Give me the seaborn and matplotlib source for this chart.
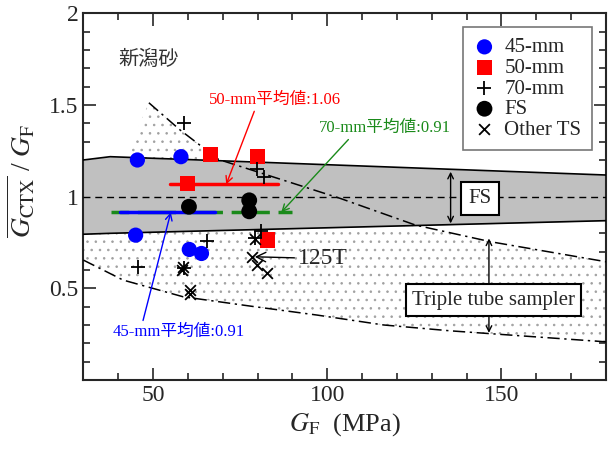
import numpy as np
import pandas as pd
import seaborn as sns
import matplotlib.pyplot as plt
from matplotlib.ticker import MultipleLocator

sns.set_style("ticks")
plt.rcParams['font.family'] = ['Liberation Serif', 'Noto Sans CJK JP']
plt.rcParams['mathtext.fontset'] = 'stix'
plt.rcParams['hatch.linewidth'] = 0.6

# %% Data

gf_45 = [45.5, 58.0, 45.0, 60.4, 63.9]
ratio_45 = [1.20, 1.218, 0.79, 0.712, 0.69]

gf_50 = [66.4, 80.0, 59.9, 82.9]
ratio_50 = [1.229, 1.218, 1.073, 0.763]

gf_70 = [58.9, 79.8, 81.7, 65.5, 81.1, 79.4, 45.8, 58.8]
ratio_70 = [1.40, 1.151, 1.105, 0.757, 0.814, 0.772, 0.617, 0.61]

gf_fs = [60.3, 77.6, 77.6]
ratio_fs = [0.945, 0.98, 0.92]

gf_ts = [79.2, 58.4, 58.7, 60.6, 60.7, 78.3, 79.7, 82.6]
ratio_ts = [0.77, 0.60, 0.615, 0.49, 0.468, 0.672, 0.627, 0.585]

# FS band (grey)
band_x = [30, 37.7, 180]
band_top = [1.20, 1.218, 1.118]
band_bot = [0.795, 0.80, 0.869]

# triple tube sampler envelope (dash-dot lines)
upper_x = [48.8, 57.8, 68.8, 103.8, 125.3, 146.9, 180]
upper_y = [1.512, 1.363, 1.203, 0.99, 0.845, 0.754, 0.645]
lower_x = [30, 41.4, 58.6, 77.9, 97.1, 116.2, 135.4, 180]
lower_y = [0.654, 0.545, 0.454, 0.403, 0.354, 0.30, 0.268, 0.208]
dotted_left_x = [42, 30]
dotted_left_y = [1.21, 1.20]

# mean values
mean_45, mean_45_x = 0.915, [40.5, 67.9]
mean_50, mean_50_x = 1.067, [54.8, 86.0]
mean_70, mean_70_x = 0.915, [37.9, 89.8]

points = pd.concat([
    pd.DataFrame({'GF': gf_45, 'ratio': ratio_45, 'group': '45-mm'}),
    pd.DataFrame({'GF': gf_50, 'ratio': ratio_50, 'group': '50-mm'}),
    pd.DataFrame({'GF': gf_70, 'ratio': ratio_70, 'group': '70-mm'}),
    pd.DataFrame({'GF': gf_fs, 'ratio': ratio_fs, 'group': 'FS'}),
    pd.DataFrame({'GF': gf_ts, 'ratio': ratio_ts, 'group': 'Other TS'}),
], ignore_index=True)

# %% Plot

fig = plt.figure(figsize=(6.13, 4.5), dpi=100)
ax = fig.add_axes([0.136, 0.1556, 0.8526, 0.8148])

# dotted envelope
poly_x = lower_x + upper_x[::-1] + dotted_left_x
poly_y = lower_y + upper_y[::-1] + dotted_left_y
ax.fill(poly_x, poly_y, facecolor='white', edgecolor='#a0a0a0', lw=0, hatch='..', zorder=1)

# FS band
ax.fill_between(band_x, band_bot, band_top, color='#c0c0c0', lw=0, zorder=2)
ax.plot(band_x, band_top, color='black', lw=1.2, zorder=3)
ax.plot(band_x, band_bot, color='black', lw=1.2, zorder=3)
ax.axhline(1.0, color='black', lw=1.0, ls=(0, (5, 3.5)), zorder=3)

dashdot = (0, (8, 3, 1.5, 3))
ax.plot(upper_x, upper_y, color='black', lw=1.1, ls=dashdot, zorder=3)
ax.plot(lower_x, lower_y, color='black', lw=1.1, ls=dashdot, zorder=3)

# mean lines
ax.plot(mean_70_x, [mean_70] * 2, color='#1a8a1a', lw=2.5, ls=(5.9, (11, 2.5)), zorder=4)
ax.plot(mean_45_x, [mean_45] * 2, color='blue', lw=2.5, zorder=4)
ax.plot(mean_50_x, [mean_50] * 2, color='red', lw=2.5, zorder=4)

styles = {
    '45-mm': dict(marker='o', color='blue', s=120),
    '50-mm': dict(marker='s', color='red', s=120),
    '70-mm': dict(marker='+', color='black', s=110, linewidths=1.3),
    'FS': dict(marker='o', color='black', s=130),
    'Other TS': dict(marker='x', color='black', s=60, linewidths=1.3),
}
for name, kw in styles.items():
    sub = points.loc[points.group == name]
    sns.scatterplot(data=sub, x='GF', y='ratio', ax=ax, label=name,
                    edgecolor='none' if kw['marker'] in 'os' else None,
                    zorder=5, **kw)

# annotations
arrow = dict(arrowstyle='->', lw=1.0, shrinkA=0, shrinkB=0)
ax.annotate('50-mm平均値:1.06', xy=(71.0, mean_50), xytext=(85.1, 1.527),
            color='red', fontsize=12, ha='center', va='center',
            arrowprops=dict(color='red', relpos=(0.35, 0), **arrow))
ax.annotate('70-mm平均値:0.91', xy=(86.8, mean_70), xytext=(116.4, 1.373),
            color='#1a8a1a', fontsize=12, ha='center', va='center',
            arrowprops=dict(color='#1a8a1a', relpos=(0.25, 0), **arrow))
ax.annotate('45-mm平均値:0.91', xy=(55.1, mean_45), xytext=(57.5, 0.263),
            color='blue', fontsize=12, ha='center', va='center',
            arrowprops=dict(color='blue', relpos=(0.22, 1), **arrow))
ax.annotate('125T', xy=(79.2, 0.672), xytext=(91.5, 0.66),
            fontsize=17, ha='left', va='center',
            arrowprops=dict(color='black', relpos=(0, 0.55), **arrow))

ax.text(48.6, 1.745, '新潟砂', fontsize=14.5, color='#333333', ha='center', va='center')

ax.annotate('', xy=(135.4, 1.136), xytext=(135.4, 0.854),
            arrowprops=dict(arrowstyle='<->', lw=1.0, color='black', shrinkA=0, shrinkB=0),
            zorder=6)
ax.text(143.9, 0.99, 'FS', fontsize=15, ha='center', va='center', zorder=7,
        bbox=dict(boxstyle='square,pad=0.35', fc='white', ec='black', lw=1.5))
ax.annotate('', xy=(146.4, 0.772), xytext=(146.4, 0.257),
            arrowprops=dict(arrowstyle='<->', lw=1.0, color='black', shrinkA=0, shrinkB=0),
            zorder=6)
ax.text(147.7, 0.436, 'Triple tube sampler', fontsize=15, ha='center', va='center', zorder=7,
        bbox=dict(boxstyle='square,pad=0.3', fc='white', ec='black', lw=1.5))

ax.set_xlim(30, 180)
ax.set_ylim(0, 2)
ax.set_xticks([50, 100, 150])
ax.set_yticks([0.5, 1, 1.5, 2])
ax.set_yticklabels(['0.5', '1', '1.5', '2'])
ax.xaxis.set_minor_locator(MultipleLocator(10))
ax.yaxis.set_minor_locator(MultipleLocator(0.1))
ax.tick_params(which='both', direction='in', top=True, right=True, width=1.2, labelsize=17)
ax.tick_params(which='major', length=9)
ax.tick_params(which='minor', length=5)
for sp in ax.spines.values():
    sp.set_linewidth(1.5)

ax.set_xlabel(r'$G_{\mathrm{F}}$  (MPa)', fontsize=19, labelpad=4)
ax.set_ylabel(r'$\overline{G_{\mathrm{CTX}}}$ / $G_{\mathrm{F}}$', fontsize=20)
ax.yaxis.set_label_coords(-0.088, 0.543)

leg = ax.legend(loc='upper right', bbox_to_anchor=(0.9726, 0.9618), borderaxespad=0,
                fontsize=15, frameon=True, fancybox=False, handletextpad=0.4,
                labelspacing=0.05, borderpad=0.5, handlelength=1.1)
leg.get_frame().set_edgecolor('#555555')
leg.get_frame().set_linewidth(1.2)
leg.set_zorder(8)

plt.savefig('out.png', dpi=100)
